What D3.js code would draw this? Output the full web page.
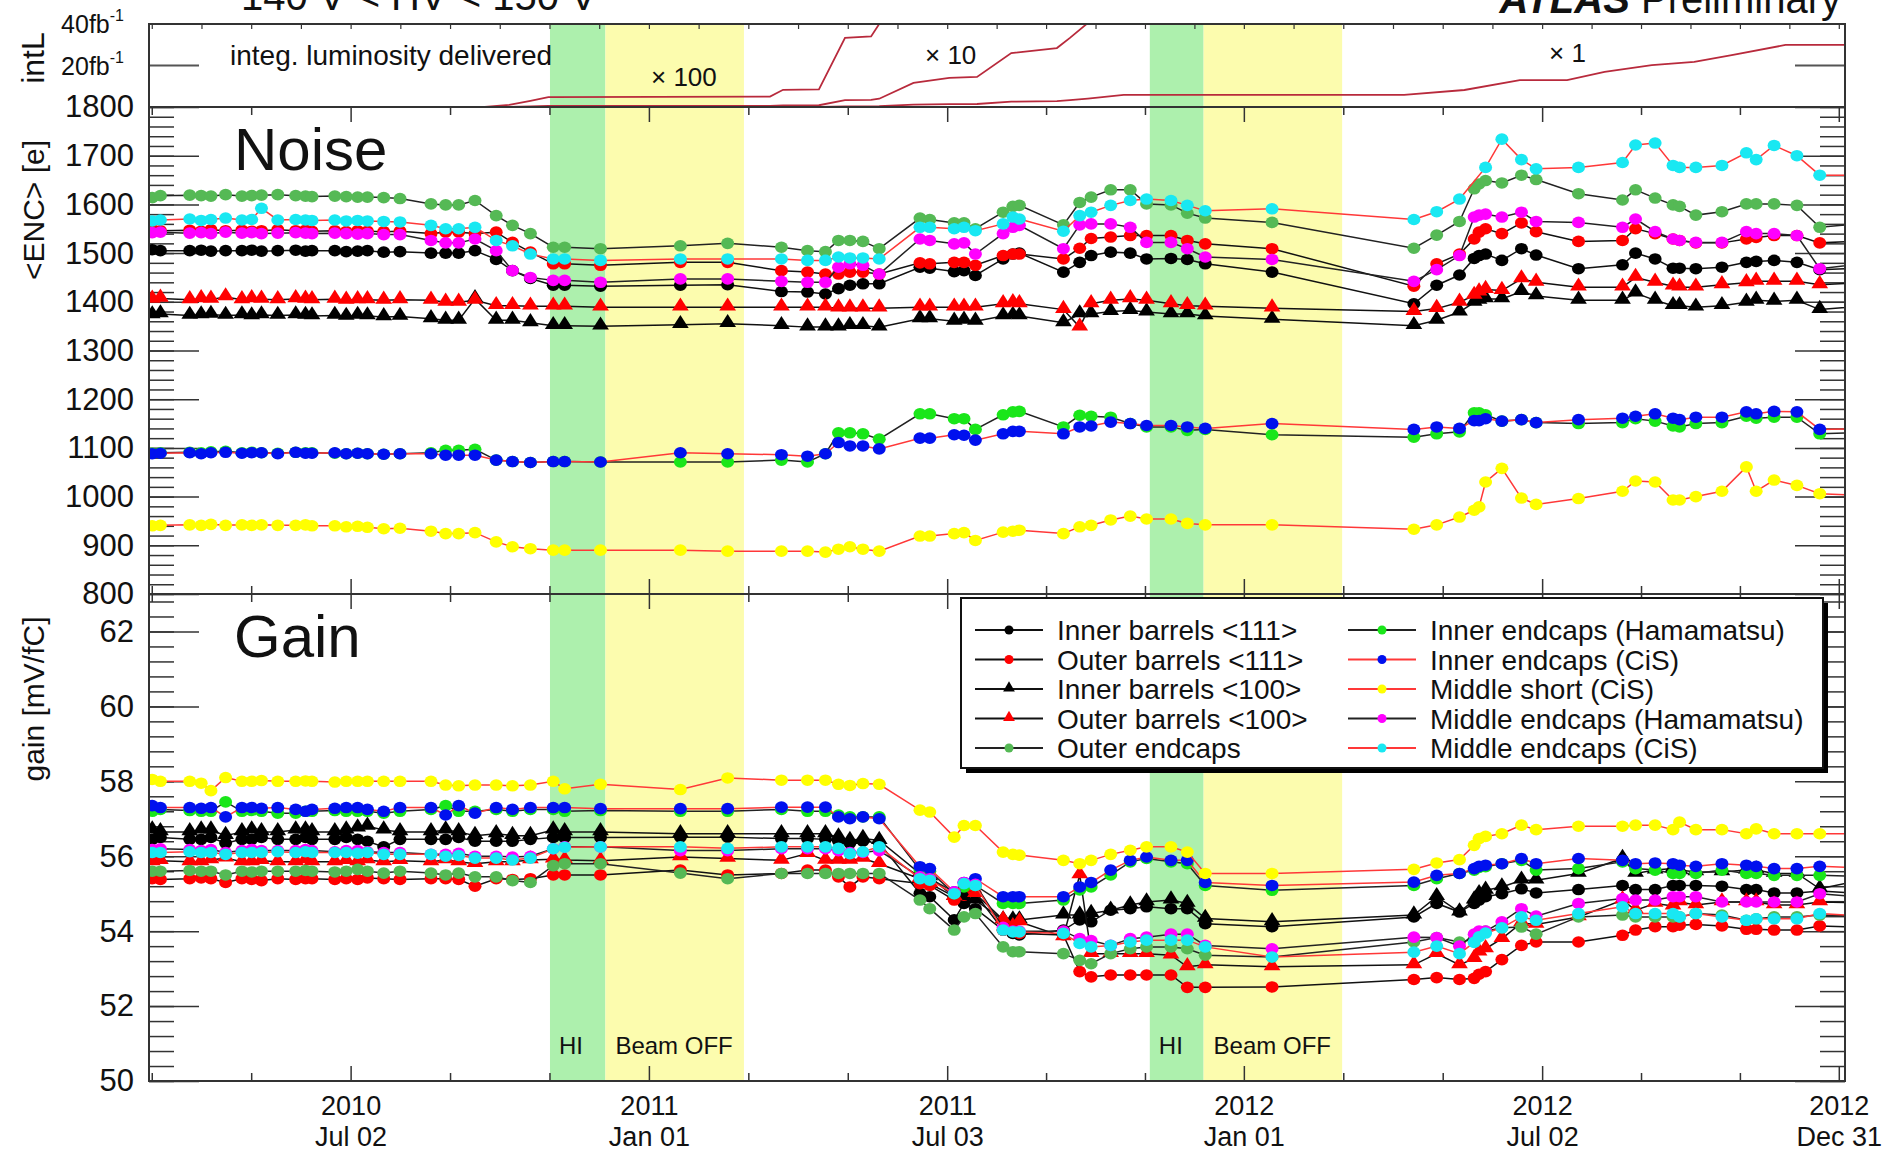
<!DOCTYPE html>
<html>
<head>
<meta charset="utf-8">
<script src="https://cdn.jsdelivr.net/npm/d3@7"></script>
<style>
  body { margin: 0; background: #fff; }
  svg { display: block; }
  text { font-family: "Liberation Sans", Arial, sans-serif; fill: #111; }
</style>
</head>
<body>
<div id="main"></div>
<script>
// measurement dates (shared by all modules)
const dates = [
  "2010-03-02","2010-03-07","2010-03-25","2010-04-01","2010-04-07","2010-04-16","2010-04-26","2010-05-02","2010-05-08","2010-05-18",
  "2010-05-29","2010-06-04","2010-06-08","2010-06-22","2010-06-29","2010-07-06","2010-07-12","2010-07-22","2010-08-01","2010-08-20",
  "2010-08-29","2010-09-06","2010-09-16","2010-09-29","2010-10-09","2010-10-20","2010-11-03","2010-11-10","2010-12-02",
  "2011-01-20","2011-02-18","2011-03-23","2011-04-08","2011-04-19","2011-04-27","2011-05-04","2011-05-12","2011-05-22","2011-06-16",
  "2011-06-22","2011-07-07","2011-07-13","2011-07-20","2011-08-06","2011-08-12","2011-08-16","2011-09-12","2011-09-22","2011-09-29",
  "2011-10-11","2011-10-23","2011-11-02","2011-11-17","2011-11-27","2011-12-08","2012-01-18",
  "2012-04-14","2012-04-28","2012-05-12","2012-05-21","2012-05-24","2012-05-28","2012-06-07","2012-06-19","2012-06-28","2012-07-24",
  "2012-08-20","2012-08-28","2012-09-09","2012-09-20","2012-09-24","2012-10-04","2012-10-20","2012-11-04","2012-11-10","2012-11-21",
  "2012-12-05","2012-12-19","2013-01-18"
];

// noise <ENC> [e]
const noiseInnerBarrels111 = [1507,1505,1505,1506,1504,1505,1505,1506,1504,1505,1506,1504,1505,1505,1503,1504,1505,1502,1503,
  1500,1500,1500,1505,1487,1464,1448,1434,1434,1432,
  1434,1435,1421,1420,1416,1427,1434,1437,1437,1471,1469,1462,1464,1454,1488,1498,1500,1461,1481,1495,1502,1500,1488,1489,1487,1478,1461,
  1396,1434,1455,1489,1495,1498,1485,1509,1496,1468,1476,1500,1488,1469,1469,1468,1471,1481,1483,1485,1481,1466,1470];
const noiseOuterBarrels111 = [1548,1546,1547,1545,1548,1546,1547,1545,1546,1548,1546,1547,1545,1546,1544,1546,1545,1544,1545,
  1540,1543,1543,1540,1543,1522,1502,1478,1478,1475,
  1481,1481,1464,1461,1457,1457,1461,1461,1457,1480,1478,1481,1481,1475,1495,1498,1498,1488,1510,1530,1533,1536,1536,1536,1526,1519,1509,
  1432,1478,1498,1529,1543,1550,1540,1562,1544,1524,1526,1550,1540,1529,1526,1521,1521,1529,1532,1536,1536,1521,1525];
const noiseInnerBarrels100 = [1373,1375,1372,1373,1374,1372,1373,1371,1373,1372,1373,1372,1371,1372,1370,1372,1371,1369,1370,
  1365,1362,1362,1406,1362,1362,1357,1351,1351,1350,
  1353,1355,1351,1348,1348,1348,1351,1351,1348,1365,1365,1360,1362,1360,1371,1372,1371,1357,1375,1375,1380,1382,1379,1375,1375,1371,1364,
  1351,1362,1379,1399,1403,1406,1406,1421,1412,1403,1403,1418,1403,1392,1392,1389,1392,1399,1403,1401,1403,1384,1392];
const noiseOuterBarrels100 = [1405,1407,1404,1406,1405,1410,1404,1406,1405,1404,1406,1405,1404,1405,1403,1404,1404,1403,1404,
  1403,1399,1399,1403,1392,1392,1391,1391,1391,1389,
  1389,1389,1389,1389,1389,1387,1387,1387,1387,1389,1389,1389,1389,1389,1396,1398,1396,1384,1348,1396,1403,1406,1403,1396,1392,1391,1387,
  1380,1386,1399,1413,1420,1425,1423,1447,1440,1430,1430,1450,1440,1432,1430,1430,1435,1439,1442,1442,1442,1435,1440];
const noiseOuterEndcaps = [1614,1618,1619,1618,1617,1620,1617,1618,1619,1620,1618,1617,1616,1617,1616,1615,1615,1614,1612,
  1601,1599,1599,1608,1577,1557,1540,1512,1512,1509,
  1515,1520,1512,1505,1503,1526,1526,1524,1509,1572,1569,1562,1562,1550,1584,1596,1598,1558,1604,1615,1630,1630,1601,1599,1582,1572,1563,
  1510,1537,1565,1632,1642,1649,1644,1660,1651,1622,1609,1630,1613,1599,1596,1578,1585,1601,1601,1601,1598,1553,1562];
const noiseInnerEndcapsHam = [1089,1090,1091,1090,1092,1093,1090,1091,1090,1089,1091,1090,1090,1089,1088,1089,1088,1087,1088,
  1090,1095,1095,1097,1075,1072,1070,1072,1072,1071,
  1071,1071,1075,1071,1088,1131,1131,1129,1118,1170,1170,1160,1160,1138,1168,1174,1175,1143,1167,1165,1163,1150,1143,1143,1136,1138,1127,
  1122,1129,1133,1172,1172,1168,1155,1158,1152,1150,1152,1160,1155,1145,1143,1150,1152,1165,1161,1163,1163,1129,1132];
const noiseInnerEndcapsCiS = [1088,1089,1090,1088,1090,1091,1089,1090,1090,1088,1091,1089,1089,1090,1088,1089,1088,1087,1088,
  1088,1085,1085,1085,1075,1072,1070,1072,1072,1071,
  1090,1088,1086,1083,1088,1111,1104,1104,1098,1120,1120,1127,1126,1116,1129,1134,1134,1129,1143,1145,1153,1150,1146,1146,1143,1140,1150,
  1138,1143,1140,1156,1156,1160,1155,1158,1152,1158,1161,1165,1170,1161,1158,1163,1163,1174,1170,1175,1174,1138,1140];
const noiseMiddleShortCiS = [940,941,942,941,943,941,942,941,942,941,941,942,940,940,938,939,937,934,935,
  929,924,924,926,907,897,893,890,890,890,
  890,888,888,888,886,892,897,892,888,919,919,924,926,910,927,929,931,924,938,941,952,960,954,954,945,942,942,
  933,942,958,972,979,1030,1058,997,984,996,1011,1032,1030,993,993,1000,1011,1061,1011,1034,1023,1006,1002];
const noiseMiddleEndcapsHam = [1542,1543,1541,1542,1540,1543,1541,1542,1540,1541,1542,1541,1540,1541,1540,1539,1540,1538,1538,
  1526,1521,1521,1529,1505,1464,1450,1444,1444,1440,
  1447,1447,1442,1440,1440,1471,1478,1475,1457,1529,1526,1519,1521,1498,1540,1553,1557,1509,1558,1560,1560,1553,1522,1522,1509,1492,1487,
  1442,1466,1495,1574,1578,1580,1574,1584,1565,1563,1553,1570,1544,1529,1526,1522,1522,1544,1540,1540,1536,1468,1480];
const noiseMiddleEndcapsCiS = [1566,1568,1570,1567,1569,1572,1568,1569,1592,1568,1569,1568,1567,1568,1566,1567,1566,1565,1564,
  1557,1550,1550,1553,1526,1515,1498,1488,1488,1485,
  1488,1488,1488,1485,1485,1492,1490,1490,1488,1553,1553,1550,1553,1546,1560,1574,1570,1545,1577,1584,1598,1608,1611,1608,1598,1587,1591,
  1569,1585,1611,null,null,1676,1734,1692,1673,1676,1686,1722,1726,1680,1676,1676,1680,1706,1692,1721,1700,1660,1660];

// gain [mV/fC]
const gainInnerBarrels111 = [56.45,56.5,56.45,56.45,56.5,56.35,56.45,56.45,56.5,56.45,56.45,56.5,56.45,56.45,56.5,56.45,56.4,56.25,56.45,
  56.45,56.45,56.5,56.4,56.4,56.4,56.45,56.5,56.5,56.5,
  56.51,56.51,56.47,56.47,56.45,56.4,56.35,56.4,56.35,55.01,54.92,54.3,54.74,54.6,54.03,53.94,53.9,54.03,54.3,54.25,54.56,54.6,54.65,54.6,54.6,54.2,54.12,
  54.38,54.74,54.51,54.74,54.83,54.92,55.0,55.13,55.02,55.11,55.22,55.11,55.11,55.22,55.22,55.22,55.2,55.11,55.11,55.02,55.02,55.07,55.0];
const gainOuterBarrels111 = [55.4,55.38,55.4,55.42,55.4,55.3,55.4,55.38,55.35,55.4,55.38,55.4,55.4,55.38,55.4,55.38,55.42,55.4,55.38,
  55.4,55.4,55.38,55.2,55.4,55.38,55.4,55.5,55.5,55.5,
  55.63,55.5,55.54,55.63,55.63,55.45,55.18,55.45,55.4,55.27,55.22,54.83,54.96,55.0,54.03,54.03,53.94,53.9,52.92,52.78,52.83,52.83,52.83,52.83,52.5,52.5,52.51,
  52.71,52.76,52.71,52.74,52.85,52.92,53.24,53.62,53.71,53.71,53.89,54.03,54.12,54.12,54.16,54.18,54.14,54.05,54.05,54.03,54.03,54.14,54.1];
const gainInnerBarrels100 = [56.7,56.65,56.65,56.7,56.7,56.55,56.65,56.7,56.65,56.65,56.7,56.7,56.65,56.65,56.7,56.75,56.8,56.7,56.65,
  56.65,56.7,56.65,56.55,56.6,56.55,56.55,56.7,56.65,56.65,
  56.6,56.6,56.6,56.6,56.6,56.51,56.42,56.47,56.42,55.54,55.45,54.92,54.92,54.83,54.3,54.3,54.3,54.43,54.43,54.47,54.56,54.7,54.78,54.83,54.74,54.34,54.25,
  54.43,54.92,54.51,54.83,55.0,55.09,55.18,55.36,55.36,55.54,55.94,55.54,55.63,55.67,55.63,55.58,55.58,55.63,55.63,55.54,55.54,55.13,55.4];
const gainOuterBarrels100 = [55.85,55.88,55.85,55.85,55.9,55.95,55.85,55.85,55.88,55.85,55.85,55.9,55.85,55.85,55.88,55.85,55.9,55.85,55.88,
  55.85,55.9,55.85,55.8,55.85,55.85,55.9,55.92,55.9,55.88,
  55.98,55.94,55.89,56.07,55.89,55.89,55.89,55.94,55.8,55.4,55.27,54.92,55.14,55.0,54.3,54.12,54.25,53.85,55.5,53.4,53.4,53.4,53.4,53.36,53.05,53.1,53.05,
  53.1,53.4,53.1,53.27,53.44,53.53,53.8,54.22,54.18,54.38,54.83,54.56,54.74,54.67,54.78,54.7,54.78,54.78,54.78,54.7,54.7,54.78,54.75];
const gainOuterEndcaps = [55.6,55.6,55.62,55.6,55.6,55.5,55.6,55.58,55.6,55.6,55.6,55.62,55.6,55.58,55.6,55.65,55.6,55.55,55.6,
  55.55,55.5,55.55,55.45,55.45,55.35,55.3,55.75,55.8,55.8,
  55.55,55.4,55.54,55.54,55.54,55.54,55.54,55.54,55.54,54.83,54.6,54.03,54.38,54.47,53.58,53.45,53.45,53.4,53.22,53.13,53.4,53.53,53.58,53.58,53.53,53.36,53.31,
  53.71,53.83,53.71,53.78,53.92,54.0,54.09,54.11,53.92,54.38,54.43,54.38,54.38,54.38,54.38,54.47,54.43,54.29,54.33,54.38,54.38,54.43,54.4];
const gainInnerEndcapsHam = [57.2,57.25,57.22,57.2,57.2,57.45,57.2,57.22,57.2,57.15,57.15,57.2,57.2,57.22,57.2,57.2,57.2,57.15,57.2,
  57.25,57.35,57.2,57.2,57.25,57.2,57.25,57.25,57.2,57.22,
  57.2,57.2,57.25,57.2,57.2,57.1,57.05,57.05,57.05,55.63,55.6,55.0,55.18,55.22,54.74,54.74,54.74,54.83,55.1,55.18,55.5,55.85,55.94,55.85,55.8,55.22,55.09,
  55.22,55.4,55.54,55.63,55.7,55.72,55.8,55.89,55.63,55.67,55.85,55.67,55.63,55.54,55.54,55.54,55.63,55.54,55.54,55.49,55.49,55.49,55.45];
const gainInnerEndcapsCiS = [57.35,57.3,57.3,57.28,57.3,57.05,57.3,57.3,57.28,57.3,57.25,57.2,57.25,57.28,57.3,57.3,57.25,57.2,57.3,
  57.3,57.1,57.35,57.15,57.3,57.25,57.3,57.3,57.3,57.27,
  57.27,57.27,57.31,57.31,57.31,57.05,57.0,57.05,57.0,55.72,55.67,55.05,55.3,55.4,54.92,54.92,54.92,54.92,55.18,55.3,55.63,55.89,55.98,55.89,55.89,55.3,55.22,
  55.31,55.49,55.54,55.67,55.73,55.76,55.8,55.94,55.8,55.94,55.89,55.8,55.82,55.8,55.76,55.73,55.8,55.76,55.73,55.67,55.67,55.73,55.68];
const gainMiddleShortCiS = [58.05,58.0,58.0,57.95,57.75,58.1,58.0,58.0,58.02,58.0,58.0,58.01,58.0,57.98,58.0,58.0,58.0,58.0,58.0,
  58.0,57.9,57.88,57.9,57.9,57.88,57.9,58.0,57.8,57.92,
  57.78,58.09,58.03,58.03,58.03,57.92,57.89,57.94,57.92,57.23,57.18,56.51,56.82,56.82,56.11,56.05,56.03,55.89,55.8,55.89,56.05,56.16,56.25,56.25,56.11,55.54,55.54,
  55.65,55.82,55.91,56.29,56.47,56.53,56.6,56.83,56.71,56.8,56.8,56.83,56.83,56.71,56.91,56.71,56.71,56.6,56.73,56.6,56.6,56.6,56.6];
const gainMiddleEndcapsHam = [56.18,56.2,56.18,56.15,56.18,56.1,56.15,56.18,56.15,56.15,56.15,56.18,56.15,56.12,56.15,56.15,56.12,56.1,56.1,
  56.05,56.05,56.08,56.0,56.0,55.98,56.0,56.2,56.25,56.25,
  56.15,56.15,56.2,56.2,56.2,56.15,56.1,56.1,56.15,55.45,55.4,55.05,55.3,55.25,54.1,54.0,54.0,54.0,53.8,53.75,53.62,53.8,53.84,53.92,53.92,53.62,53.53,
  53.84,53.83,53.6,53.92,54.0,54.0,54.25,54.6,54.4,54.74,54.87,54.83,54.83,54.92,54.92,54.92,54.78,54.78,54.78,54.78,54.78,55.0,54.9];
const gainMiddleEndcapsCiS = [56.1,56.1,56.12,56.1,56.1,56.05,56.1,56.1,56.1,56.12,56.1,56.12,56.1,56.1,56.1,56.08,56.1,56.05,56.05,
  56.05,56.0,56.02,55.95,55.95,55.9,55.95,56.2,56.24,56.25,
  56.25,56.21,56.25,56.25,56.25,56.21,56.07,56.12,56.25,55.4,55.36,55.0,55.27,55.22,54.03,53.98,53.98,53.94,53.67,53.58,53.62,53.71,53.76,53.76,53.76,53.58,53.31,
  53.44,53.6,53.4,53.7,53.85,53.95,54.09,54.38,54.29,54.47,54.65,54.47,54.47,54.47,54.38,54.47,54.38,54.29,54.33,54.33,54.33,54.47,54.4];

// delivered integrated luminosity [fb^-1], drawn x100, x10 and x1
const lumiDates = ["2010-03-01","2010-09-22","2010-10-07","2010-10-20","2010-10-31","2011-03-16","2011-03-24","2011-04-15","2011-05-01","2011-05-17",
  "2011-05-22","2011-06-12","2011-07-04","2011-07-21","2011-08-11","2011-09-08","2011-09-16","2011-09-27","2011-10-19","2012-04-08",
  "2012-05-15","2012-06-18","2012-07-17","2012-08-09","2012-09-07","2012-10-03","2012-10-26","2012-11-28","2013-01-03"];
const lumiValues = [0,0.001,0.01,0.03,0.048,0.05,0.083,0.085,0.333,0.34,
  0.40,1.16,1.40,1.45,2.6,2.84,3.33,4.05,5.8,5.8,
  8.2,13,13,16.9,20.2,21.7,25,29.9,29.9];
const lumiFactors = [100, 10, 1];
const lumiFactorLabels = ["\u00d7 100", "\u00d7 10", "\u00d7 1"];

// heavy ion runs and beam-off periods
const hiStarts = ["2010-11-01", "2011-11-04"];
const hiEnds = ["2010-12-05", "2011-12-07"];
const beamOffEnds = ["2011-02-28", "2012-03-01"];

const seriesNames = ["Inner barrels <111>", "Outer barrels <111>", "Inner barrels <100>", "Outer barrels <100>", "Outer endcaps",
  "Inner endcaps (Hamamatsu)", "Inner endcaps (CiS)", "Middle short (CiS)", "Middle endcaps (Hamamatsu)", "Middle endcaps (CiS)"];
const noiseSeries = [noiseInnerBarrels111, noiseOuterBarrels111, noiseInnerBarrels100, noiseOuterBarrels100, noiseOuterEndcaps,
  noiseInnerEndcapsHam, noiseInnerEndcapsCiS, noiseMiddleShortCiS, noiseMiddleEndcapsHam, noiseMiddleEndcapsCiS];
const gainSeries = [gainInnerBarrels111, gainOuterBarrels111, gainInnerBarrels100, gainOuterBarrels100, gainOuterEndcaps,
  gainInnerEndcapsHam, gainInnerEndcapsCiS, gainMiddleShortCiS, gainMiddleEndcapsHam, gainMiddleEndcapsCiS];

const noiseTicks = [800, 900, 1000, 1100, 1200, 1300, 1400, 1500, 1600, 1700, 1800];
const gainTicks = [50, 52, 54, 56, 58, 60, 62];
const xTickDates = ["2010-07-02", "2011-01-01", "2011-07-03", "2012-01-01", "2012-07-02", "2012-12-31"];
const xTickYears = ["2010", "2011", "2011", "2012", "2012", "2012"];
const xTickDays = ["Jul 02", "Jan 01", "Jul 03", "Jan 01", "Jul 02", "Dec 31"];

// styles
const markerColors = ["#000000", "#ff0000", "#000000", "#ff0000", "#55b955", "#19e619", "#0010ee", "#ffff00", "#ff00ff", "#19e8f2"];
const lineColors = ["#111", "#111", "#111", "#111", "#222", "#222", "#ff3838", "#ff3838", "#222", "#ff3838"];
const markerShapes = ["circle", "circle", "triangle", "triangle", "circle", "circle", "circle", "circle", "circle", "circle"];

const width = 1899;
const height = 1152;
const left = 149, right = 1845;
const lumiTop = 24, noiseTop = 107, gainTop = 594, gainBottom = 1081;

const parse = d3.utcParse("%Y-%m-%d");

const x = d3.scaleUtc()
  .domain([Date.UTC(2010, 1, 28), Date.UTC(2013, 0, 3, 12)])
  .range([left, right]);
const yLumi = d3.scaleLinear().domain([0, 40]).range([noiseTop, lumiTop]);
const yNoise = d3.scaleLinear().domain([800, 1800]).range([gainTop, noiseTop]);
const yGain = d3.scaleLinear().domain([50, 63]).range([gainBottom, gainTop]);

const svg = d3.select("#main").append("svg")
  .attr("width", width)
  .attr("height", height);

const defs = svg.append("defs");
[["clipLumi", lumiTop, noiseTop], ["clipNoise", noiseTop, gainTop], ["clipGain", gainTop, gainBottom]].forEach(([id, t, b]) => {
  defs.append("clipPath").attr("id", id)
    .append("rect").attr("x", left).attr("y", t).attr("width", right - left).attr("height", b - t);
});

// HI / beam off bands
hiStarts.forEach((s, i) => {
  svg.append("rect")
    .attr("x", x(parse(s))).attr("y", lumiTop)
    .attr("width", x(parse(hiEnds[i])) - x(parse(s))).attr("height", gainBottom - lumiTop)
    .attr("fill", "#adf0ad");
  svg.append("rect")
    .attr("x", x(parse(hiEnds[i]))).attr("y", lumiTop)
    .attr("width", x(parse(beamOffEnds[i])) - x(parse(hiEnds[i]))).attr("height", gainBottom - lumiTop)
    .attr("fill", "#fcfcae");
  svg.append("text")
    .attr("x", x(parse(s)) + 9).attr("y", 1054)
    .attr("font-size", 24).text("HI");
  svg.append("text")
    .attr("x", x(parse(hiEnds[i])) + 10).attr("y", 1054)
    .attr("font-size", 24).text("Beam OFF");
});

// x ticks
const majorT = xTickDates.map(d => +parse(d));
const minorT = [];
const step = (majorT[1] - majorT[0]) / 3;
minorT.push(majorT[0] - 2 * step, majorT[0] - step);
for (let i = 0; i < majorT.length - 1; i++) {
  const s = (majorT[i + 1] - majorT[i]) / 3;
  minorT.push(majorT[i] + s, majorT[i] + 2 * s);
}
const allT = minorT.concat(majorT).sort((a, b) => a - b);
const smallT = [];
for (let i = 0; i < allT.length - 1; i++) smallT.push(allT[i], (allT[i] + allT[i + 1]) / 2);
smallT.push(allT[allT.length - 1]);

function xTicks(y, dir, majLen, minLen) {
  const g = svg.append("g").attr("stroke", "#333").attr("stroke-width", 1.5);
  g.selectAll("line.maj").data(majorT).enter().append("line")
    .attr("x1", d => x(d)).attr("x2", d => x(d))
    .attr("y1", y).attr("y2", y + dir * majLen);
  g.selectAll("line.min").data(minorT).enter().append("line")
    .attr("x1", d => x(d)).attr("x2", d => x(d))
    .attr("y1", y).attr("y2", y + dir * minLen);
}
xTicks(noiseTop, 1, 15, 8);
xTicks(gainTop, -1, 15, 8);
xTicks(gainTop, 1, 15, 8);
xTicks(gainBottom, -1, 15, 8);
svg.append("g").attr("stroke", "#333").attr("stroke-width", 1.2)
  .selectAll("line").data(smallT).enter().append("line")
  .attr("x1", d => x(d)).attr("x2", d => x(d))
  .attr("y1", lumiTop).attr("y2", lumiTop + 5);

// y axes
function yAxis(scale, majors, minors) {
  const gl = svg.append("g").attr("transform", `translate(${left},0)`)
    .call(d3.axisLeft(scale).tickValues(minors).tickSize(-25).tickFormat(""));
  const gl2 = svg.append("g").attr("transform", `translate(${left},0)`)
    .call(d3.axisLeft(scale).tickValues(majors).tickSize(-50).tickPadding(15).tickFormat(d3.format("d")));
  const gr = svg.append("g").attr("transform", `translate(${right},0)`)
    .call(d3.axisRight(scale).tickValues(minors).tickSize(-25).tickFormat(""));
  const gr2 = svg.append("g").attr("transform", `translate(${right},0)`)
    .call(d3.axisRight(scale).tickValues(majors).tickSize(-50).tickFormat(""));
  [gl, gl2, gr, gr2].forEach(g => {
    g.select(".domain").remove();
    g.selectAll("line").attr("stroke", "#333").attr("stroke-width", 1.5);
    g.selectAll("text").attr("font-size", 31).attr("font-family", "Liberation Sans, Arial, sans-serif").attr("fill", "#111");
  });
}
yAxis(yNoise, noiseTicks, d3.range(800, 1801, 20));
yAxis(yGain, gainTicks, d3.range(50, 63.01, 0.4));

// intL axis
[left, right].forEach((xx, i) => {
  svg.append("line")
    .attr("x1", xx).attr("x2", xx + (i ? -50 : 50))
    .attr("y1", yLumi(20)).attr("y2", yLumi(20))
    .attr("stroke", "#555").attr("stroke-width", 2);
});
[20, 40].forEach(v => {
  const t = svg.append("text")
    .attr("x", 124).attr("y", yLumi(v) + 9)
    .attr("text-anchor", "end").attr("font-size", 25);
  t.append("tspan").text(v + "fb");
  t.append("tspan").attr("font-size", 16).attr("dy", -12).text("-1");
});

// luminosity curves
const lumiPts = lumiDates.map((d, i) => ({ date: parse(d), v: lumiValues[i] }));
const lumiG = svg.append("g").attr("clip-path", "url(#clipLumi)");
lumiFactors.forEach(f => {
  lumiG.append("path")
    .datum(lumiPts)
    .attr("fill", "none")
    .attr("stroke", "#b82a3c")
    .attr("stroke-width", 1.8)
    .attr("d", d3.line().x(p => x(p.date)).y(p => yLumi(p.v * f)));
});
const lumiLabelPos = [[651, 86], [925, 64], [1549, 62]];
lumiFactorLabels.forEach((t, i) => {
  svg.append("text")
    .attr("x", lumiLabelPos[i][0]).attr("y", lumiLabelPos[i][1])
    .attr("font-size", 26).text(t);
});
svg.append("text").attr("x", 230).attr("y", 65).attr("font-size", 28).text("integ. luminosity delivered");

// data series
const triangle = d3.symbol(d3.symbolTriangle, 100);
function drawPanel(series, yScale, clipId) {
  const g = svg.append("g").attr("clip-path", `url(#${clipId})`);
  series.forEach((vals, i) => {
    const pts = dates.map((d, j) => ({ date: parse(d), v: vals[j] })).filter(p => p.v != null);
    g.append("path")
      .datum(pts)
      .attr("fill", "none")
      .attr("stroke", lineColors[i])
      .attr("stroke-width", 1.5)
      .attr("d", d3.line().x(p => x(p.date)).y(p => yScale(p.v)));
    if (markerShapes[i] === "triangle") {
      g.selectAll(null).data(pts).enter().append("path")
        .attr("d", triangle)
        .attr("transform", p => `translate(${x(p.date)},${yScale(p.v) - 1}) scale(1.1,1)`)
        .attr("fill", markerColors[i]);
    } else {
      g.selectAll(null).data(pts).enter().append("ellipse")
        .attr("cx", p => x(p.date)).attr("cy", p => yScale(p.v))
        .attr("rx", 6.5).attr("ry", 5.8)
        .attr("fill", markerColors[i]);
    }
  });
}
drawPanel(noiseSeries, yNoise, "clipNoise");
drawPanel(gainSeries, yGain, "clipGain");

// frame
const frame = svg.append("g").attr("stroke", "#333").attr("stroke-width", 2).attr("fill", "none");
frame.append("rect").attr("x", left).attr("y", lumiTop).attr("width", right - left).attr("height", gainBottom - lumiTop);
[noiseTop, gainTop].forEach(y => frame.append("line").attr("x1", left).attr("x2", right).attr("y1", y).attr("y2", y));

// x labels
xTickDates.forEach((d, i) => {
  svg.append("text")
    .attr("x", x(parse(d))).attr("y", 1115)
    .attr("text-anchor", "middle").attr("font-size", 27).text(xTickYears[i]);
  svg.append("text")
    .attr("x", x(parse(d))).attr("y", 1146)
    .attr("text-anchor", "middle").attr("font-size", 27).text(xTickDays[i]);
});

// panel titles
svg.append("text").attr("x", 234).attr("y", 170).attr("font-size", 60).text("Noise");
svg.append("text").attr("x", 234).attr("y", 657).attr("font-size", 60).text("Gain");

// axis titles
function yTitle(txt, cy, size) {
  svg.append("text")
    .attr("transform", `translate(44,${cy}) rotate(-90)`)
    .attr("text-anchor", "middle").attr("font-size", size).text(txt);
}
yTitle("<ENC> [e]", 210, 30);
yTitle("gain [mV/fC]", 699, 30);
yTitle("intL", 58, 32);

// header
svg.append("text").attr("x", 241).attr("y", 10).attr("font-size", 40).text("140 V < HV < 150 V");
const hdr = svg.append("text").attr("x", 1841).attr("y", 13).attr("text-anchor", "end").attr("font-size", 40);
hdr.append("tspan").attr("font-weight", "bold").attr("font-style", "italic").text("ATLAS");
hdr.append("tspan").text(" Preliminary");

// legend
const lg = svg.append("g");
lg.append("rect").attr("x", 966).attr("y", 603).attr("width", 862).attr("height", 170).attr("fill", "#000");
lg.append("rect").attr("x", 961).attr("y", 598).attr("width", 862).attr("height", 170)
  .attr("fill", "#fff").attr("stroke", "#111").attr("stroke-width", 2);
seriesNames.forEach((name, i) => {
  const col = i < 5 ? 0 : 1;
  const row = i % 5;
  const lx = col ? 1348 : 975;
  const cy = 630 + row * 29.5;
  lg.append("line").attr("x1", lx).attr("x2", lx + 68).attr("y1", cy).attr("y2", cy)
    .attr("stroke", lineColors[i]).attr("stroke-width", 1.8);
  if (markerShapes[i] === "triangle") {
    lg.append("path").attr("d", d3.symbol(d3.symbolTriangle, 60)).attr("transform", `translate(${lx + 34},${cy - 1})`).attr("fill", markerColors[i]);
  } else {
    lg.append("circle").attr("cx", lx + 34).attr("cy", cy).attr("r", 4.5).attr("fill", markerColors[i]);
  }
  lg.append("text").attr("x", lx + 82).attr("y", cy + 10).attr("font-size", 28).text(name);
});
</script>
</body>
</html>
